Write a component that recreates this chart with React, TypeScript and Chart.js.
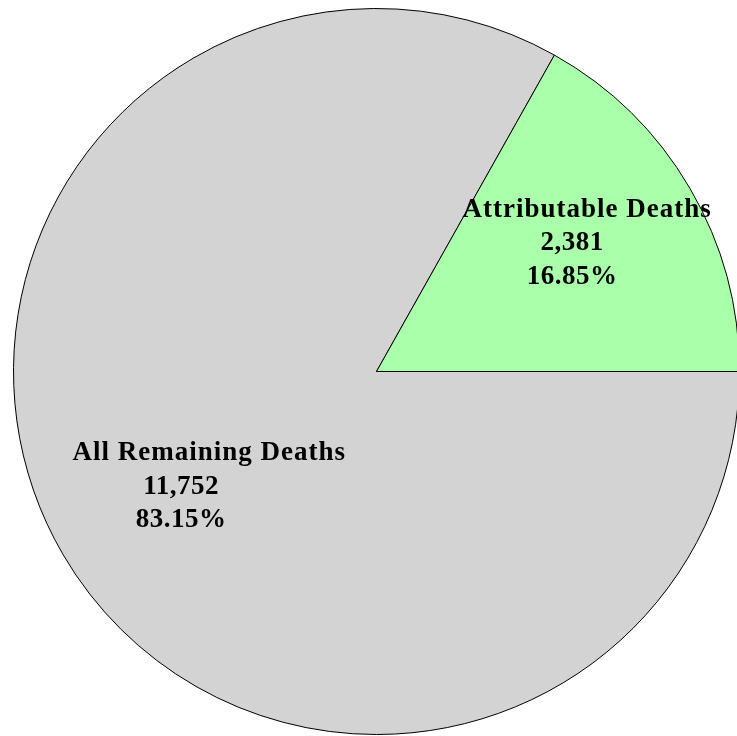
import React, { useEffect, useRef } from "react";
import { Chart, registerables } from "chart.js";

Chart.register(...registerables);

const categories = ["All Remaining Deaths", "Attributable Deaths"];
const deaths = [11752, 2381];
const percentLabels = ["83.15%", "16.85%"];
const countLabels = ["11,752", "2,381"];
const sliceColors = ["#D3D3D3", "#AAFFAA"];

// label placement relative to each slice's mid-angle anchor: [fraction of radius, [dx, dy] per line]
const labelLayout = [
  { k: 0.55, lines: [[5, -12], [-23, 22], [-23, 55]] },
  { k: 0.65, lines: [[7, -35], [-8, -2], [-8, 32]] },
];
const lineSpacing = ["1px", "0.5px", "0.5px"];

const labelPlugin = {
  id: "sliceLabels",
  afterDatasetsDraw(chart: any) {
    const ctx = chart.ctx;
    const meta = chart.getDatasetMeta(0);
    ctx.save();
    ctx.fillStyle = "#000";
    ctx.font = "bold 27px 'Liberation Serif', serif";
    ctx.textAlign = "center";
    ctx.textBaseline = "alphabetic";
    meta.data.forEach((arc: any, i: number) => {
      const p = arc.getProps(["x", "y", "startAngle", "endAngle", "outerRadius"], true);
      const mid = (p.startAngle + p.endAngle) / 2;
      const lay = labelLayout[i];
      const ax = p.x + Math.cos(mid) * p.outerRadius * lay.k;
      const ay = p.y + Math.sin(mid) * p.outerRadius * lay.k;
      const texts = [categories[i], countLabels[i], percentLabels[i]];
      texts.forEach((t, j) => {
        (ctx as any).letterSpacing = lineSpacing[j];
        ctx.fillText(t, ax + lay.lines[j][0], ay + lay.lines[j][1]);
      });
    });
    ctx.restore();
  },
};

export default function App() {
  const ref = useRef<HTMLCanvasElement | null>(null);
  useEffect(() => {
    if (!ref.current) return;
    const chart = new Chart(ref.current, {
      type: "pie",
      data: {
        labels: categories,
        datasets: [
          {
            data: deaths,
            backgroundColor: sliceColors,
            borderColor: "#000",
            borderWidth: 1,
          },
        ],
      },
      options: {
        animation: false,
        responsive: false,
        rotation: 90,
        layout: { padding: 0 },
        plugins: {
          legend: { display: false },
          tooltip: { enabled: false },
          title: { display: false },
        },
      },
      plugins: [labelPlugin],
    });
    return () => chart.destroy();
  }, []);
  return (
    <div
      style={{
        position: "fixed",
        left: 0,
        top: 0,
        width: 737,
        height: 736,
        overflow: "hidden",
        background: "#fff",
      }}
    >
      <canvas
        ref={ref}
        width={727}
        height={727}
        style={{ position: "absolute", left: 12.5, top: 7.5, width: 727, height: 727 }}
      />
    </div>
  );
}
